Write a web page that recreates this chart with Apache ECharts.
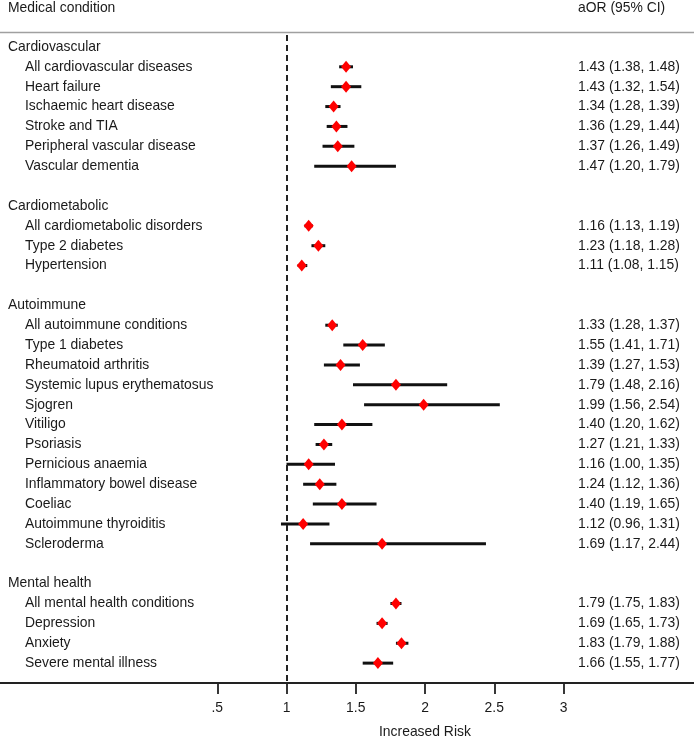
<!DOCTYPE html>
<html>
<head>
<meta charset="utf-8">
<script src="https://cdn.jsdelivr.net/npm/echarts@6/dist/echarts.min.js"></script>
<style>html,body{margin:0;padding:0;background:#fff}#c{width:694px;height:739px}</style>
</head>
<body>
<div id="c"></div>
<script>
const groupNames = ['Cardiovascular', 'Cardiometabolic', 'Autoimmune', 'Mental health'];
const groupSizes = [6, 3, 12, 4];
const conditions = [
  'All cardiovascular diseases', 'Heart failure', 'Ischaemic heart disease', 'Stroke and TIA',
  'Peripheral vascular disease', 'Vascular dementia',
  'All cardiometabolic disorders', 'Type 2 diabetes', 'Hypertension',
  'All autoimmune conditions', 'Type 1 diabetes', 'Rheumatoid arthritis', 'Systemic lupus erythematosus',
  'Sjogren', 'Vitiligo', 'Psoriasis', 'Pernicious anaemia', 'Inflammatory bowel disease', 'Coeliac',
  'Autoimmune thyroiditis', 'Scleroderma',
  'All mental health conditions', 'Depression', 'Anxiety', 'Severe mental illness'
];
const aor    = [1.43, 1.43, 1.34, 1.36, 1.37, 1.47, 1.16, 1.23, 1.11, 1.33, 1.55, 1.39, 1.79, 1.99, 1.40, 1.27, 1.16, 1.24, 1.40, 1.12, 1.69, 1.79, 1.69, 1.83, 1.66];
const ciLow  = [1.38, 1.32, 1.28, 1.29, 1.26, 1.20, 1.13, 1.18, 1.08, 1.28, 1.41, 1.27, 1.48, 1.56, 1.20, 1.21, 1.00, 1.12, 1.19, 0.96, 1.17, 1.75, 1.65, 1.79, 1.55];
const ciHigh = [1.48, 1.54, 1.39, 1.44, 1.49, 1.79, 1.19, 1.28, 1.15, 1.37, 1.71, 1.53, 2.16, 2.54, 1.62, 1.33, 1.35, 1.36, 1.65, 1.31, 2.44, 1.83, 1.73, 1.88, 1.77];
const xTicks = [0.5, 1, 1.5, 2, 2.5, 3];

// build row layout: header row, items, blank row between groups
const groupRows = [], itemRows = [];
let r = 0;
groupNames.forEach((g, gi) => {
  groupRows.push(r); r++;
  for (let j = 0; j < groupSizes[gi]; j++) { itemRows.push(r); r++; }
  r++;
});
const groupLabelByRow = {}; groupRows.forEach((row, i) => groupLabelByRow[row] = groupNames[i]);
const itemIndexByRow = {}; itemRows.forEach((row, i) => itemIndexByRow[row] = i);

const FONT = 'Liberation Sans, Arial, sans-serif';
const FS = 13.9;
const TXT = '#1a1a1a';

const baseY = {
  type: 'value', inverse: true, min: -0.6, max: 32,
  axisLine: { show: false }, axisTick: { show: false }, splitLine: { show: false }
};
const titleStyle = { fontFamily: FONT, fontSize: FS, fontWeight: 'normal', color: TXT };

const chart = echarts.init(document.getElementById('c'), null, { renderer: 'canvas' });
chart.setOption({
  animation: false,
  backgroundColor: '#fff',
  title: [
    { text: 'Medical condition', left: 8, top: 1, padding: 0, textStyle: titleStyle },
    { text: 'aOR (95% CI)', left: 578, top: 1, padding: 0, textStyle: titleStyle },
    { text: 'Increased Risk', left: 379, top: 725, padding: 0, textStyle: titleStyle }
  ],
  graphic: [
    { type: 'line', shape: { x1: 0, y1: 32.5, x2: 694, y2: 32.5 }, style: { stroke: '#a0a0a0', lineWidth: 1.5 } }
  ],
  grid: { left: 0, right: 0, top: 35, bottom: 56, containLabel: false },
  xAxis: {
    type: 'value', min: -1.0686, max: 3.942,
    splitLine: { show: false },
    axisLine: { onZero: false, lineStyle: { color: '#222', width: 1.8 } },
    axisTick: { customValues: xTicks, length: 11, lineStyle: { color: '#222', width: 1.8 } },
    axisLabel: {
      customValues: xTicks, margin: 18, fontFamily: FONT, fontSize: FS, color: TXT,
      formatter: v => (v === 0.5 ? '.5' : String(v))
    }
  },
  yAxis: [
    Object.assign({}, baseY, {
      position: 'left',
      axisLabel: { inside: true, margin: 8, customValues: groupRows, fontFamily: FONT, fontSize: FS, color: TXT,
        formatter: v => groupLabelByRow[v] || '' }
    }),
    Object.assign({}, baseY, {
      position: 'left',
      axisLabel: { inside: true, margin: 25, customValues: itemRows, fontFamily: FONT, fontSize: FS, color: TXT,
        formatter: v => (itemIndexByRow[v] !== undefined ? conditions[itemIndexByRow[v]] : '') }
    }),
    Object.assign({}, baseY, {
      position: 'right',
      axisLabel: { inside: true, margin: 116, align: 'left', customValues: itemRows, fontFamily: FONT, fontSize: FS, color: TXT,
        formatter: v => {
          const i = itemIndexByRow[v];
          if (i === undefined) return '';
          return aor[i].toFixed(2) + ' (' + ciLow[i].toFixed(2) + ', ' + ciHigh[i].toFixed(2) + ')';
        } }
    })
  ],
  series: [
    {
      type: 'custom', yAxisIndex: 0,
      encode: { x: [0, 1], y: 2 },
      data: itemRows.map((row, i) => [ciLow[i], ciHigh[i], row]),
      renderItem: (params, api) => {
        const a = api.coord([api.value(0), api.value(2)]);
        const b = api.coord([api.value(1), api.value(2)]);
        return { type: 'line', shape: { x1: a[0], y1: a[1], x2: b[0], y2: b[1] }, style: { stroke: '#111', lineWidth: 3 } };
      },
      z: 2
    },
    {
      type: 'scatter', yAxisIndex: 0,
      symbol: 'diamond', symbolSize: [10, 12],
      itemStyle: { color: '#ff0000', opacity: 1 },
      data: itemRows.map((row, i) => [aor[i], row]),
      z: 3,
      markLine: {
        silent: true, symbol: 'none', label: { show: false },
        lineStyle: { color: '#222', type: [6, 4], width: 2 },
        data: [{ xAxis: 1 }]
      }
    }
  ]
});
</script>
</body>
</html>
